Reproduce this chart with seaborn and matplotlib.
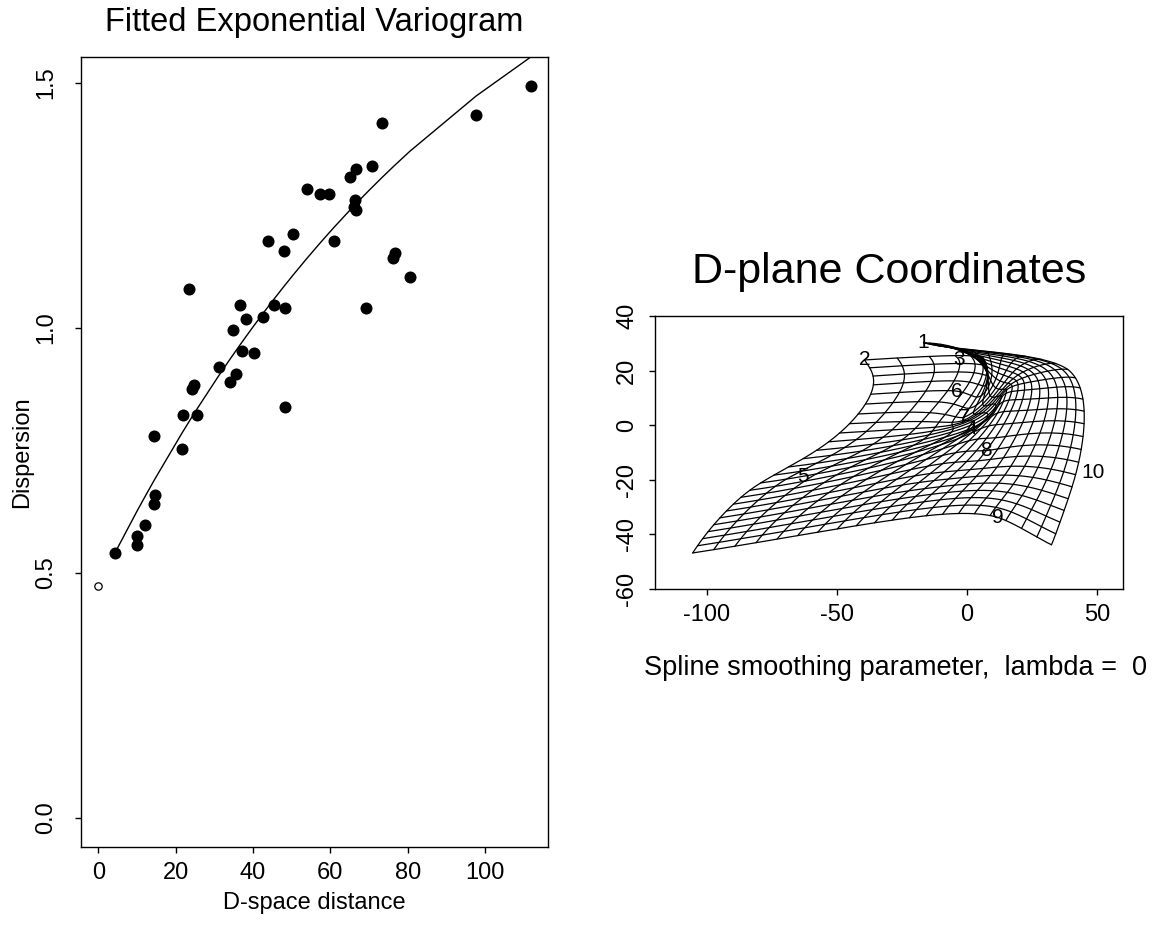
import numpy as np
import pandas as pd
import matplotlib
matplotlib.use("Agg")
import matplotlib.pyplot as plt
import seaborn as sns

# ---------------- Left panel: empirical variogram ----------------
dist = [111.8, 97.7, 73.4, 70.7, 66.6, 65.1, 54.0, 57.2, 59.6, 66.4,
        66.0, 66.6, 50.4, 43.8, 60.9, 47.9, 76.7, 76.3, 80.6, 23.5,
        36.6, 45.5, 48.2, 69.1, 38.1, 42.6, 34.8, 37.2, 40.2, 31.1,
        35.5, 34.0, 24.7, 24.2, 21.8, 25.6, 48.2, 14.4, 21.6, 14.7,
        14.3, 12.1, 10.1, 9.9, 4.3]
dispersion = [1.493, 1.434, 1.418, 1.330, 1.325, 1.307, 1.283, 1.273, 1.273, 1.261,
              1.247, 1.240, 1.191, 1.177, 1.177, 1.157, 1.153, 1.142, 1.103, 1.079,
              1.046, 1.046, 1.040, 1.040, 1.018, 1.022, 0.995, 0.952, 0.948, 0.920,
              0.905, 0.889, 0.884, 0.876, 0.822, 0.822, 0.838, 0.779, 0.752, 0.659,
              0.640, 0.597, 0.575, 0.557, 0.540]
# fitted exponential variogram parameters
nugget = 0.473
partial_sill = 1.604
vrange = 100.0

# ---------------- Right panel: D-plane coordinates ----------------
station = ["1", "2", "3", "4", "5", "6", "7", "8", "9", "10"]
d_x = [-16.7, -39.4, -3.2, 1.5, -62.9, -4.1, -1.3, 7.4, 11.9, 48.5]
d_y = [30.2, 23.9, 24.1, -1.2, -18.7, 12.5, 2.9, -9.3, -33.8, -17.5]
# G-plane positions of the stations, in grid-cell units
g_u = [20.0, 0.0, 3.0, 6.0, 1.6, 3.5, 6.0, 12.0, 16.5, 21.5]
g_v = [24.0, 24.0, 23.5, 12.0, 10.0, 20.0, 18.0, 8.0, 0.0, 6.5]
# grid extent and grid nodes (corners, outer arc, fold)
grid_u = [0.0, 20.0]
grid_v = [0.0, 24.0]
anchor_u = [0.0, 20.0, 20.0, 9.5]
anchor_v = [0.0, 0.0, 15.0, 13.0]
anchor_x = [-105.5, 32.5, 38.8, 14.0]
anchor_y = [-46.8, -43.8, 20.4, 11.0]
lam = 0

sns.set_style("ticks")
plt.rcParams["font.family"] = ["Liberation Sans", "DejaVu Sans"]
for k in ["text.color", "axes.labelcolor", "xtick.color", "ytick.color",
          "axes.edgecolor"]:
    plt.rcParams[k] = "black"
plt.rcParams["axes.linewidth"] = 1.0
plt.rcParams["xtick.major.width"] = 1.0
plt.rcParams["ytick.major.width"] = 1.0
plt.rcParams["xtick.major.size"] = 4
plt.rcParams["ytick.major.size"] = 4

W, H = 1160, 930
fig = plt.figure(figsize=(W / 100, H / 100), dpi=100)


def box(l, t, r, b):
    return [l / W, 1 - b / H, (r - l) / W, (b - t) / H]


# ---- left axes ----
ax1 = fig.add_axes(box(81, 57, 548, 847))
df = pd.DataFrame({"h": dist, "g": dispersion})
sns.scatterplot(data=df, x="h", y="g", ax=ax1, color="black", s=75,
                edgecolor="black", linewidth=0, zorder=3)
ax1.scatter([0.0], [nugget], s=28, facecolor="white", edgecolor="black",
            linewidth=0.9, zorder=3)
hs = np.sort(np.array(dist))
fit = nugget + partial_sill * (1 - np.exp(-hs / vrange))
sns.lineplot(x=hs, y=fit, ax=ax1, color="black", linewidth=1.0, sort=False,
             estimator=None)
xr = max(dist)
ax1.set_xlim(-0.04 * xr, max(dist) + 0.04 * xr)
yr = max(dispersion)
ax1.set_ylim(-0.04 * yr, yr * 1.04)
ax1.set_xticks([0, 20, 40, 60, 80, 100])
ax1.set_yticks([0.0, 0.5, 1.0, 1.5])
ax1.set_yticklabels(["0.0", "0.5", "1.0", "1.5"], rotation=90, va="center")
ax1.tick_params(axis="x", labelsize=17, pad=7)
ax1.tick_params(axis="y", labelsize=17, pad=13)
ax1.set_xlabel("")
ax1.set_ylabel("")
for s in ax1.spines.values():
    s.set_visible(True)
fig.text(314.5 / W, 1 - 22 / H, "Fitted Exponential Variogram", ha="center",
         va="center", fontsize=23.5)
fig.text(314.5 / W, 1 - 903 / H, "D-space distance", ha="center", va="center",
         fontsize=17)
fig.text(22 / W, 1 - 452 / H, "Dispersion", ha="center", va="center",
         fontsize=17, rotation=90)

# ---- right axes: thin-plate spline deformation grid ----
src = np.column_stack([g_u + anchor_u, g_v + anchor_v]).astype(float)
dst = np.column_stack([d_x + anchor_x, d_y + anchor_y]).astype(float)
n = len(src)


def kern(a, b):
    d = np.sqrt(((a[:, None, :] - b[None, :, :]) ** 2).sum(-1))
    with np.errstate(divide="ignore", invalid="ignore"):
        k = np.where(d > 0, d ** 2 * np.log(d), 0.0)
    return k


L = np.zeros((n + 3, n + 3))
L[:n, :n] = kern(src, src) + lam * np.eye(n)
P = np.hstack([np.ones((n, 1)), src])
L[:n, n:] = P
L[n:, :n] = P.T
Y = np.vstack([dst, np.zeros((3, 2))])
coef = np.linalg.solve(L, Y)


def warp(pts):
    return kern(pts, src) @ coef[:n] + coef[n] + pts @ coef[n + 1:]


umin, umax = grid_u
vmin, vmax = grid_v
nu, nv = 21, 25
t = np.linspace(0, 1, 400)
rows = []
lid = 0
for u in np.linspace(umin, umax, nu):
    pts = np.column_stack([np.full_like(t, u), vmin + t * (vmax - vmin)])
    w = warp(pts)
    rows.append(pd.DataFrame({"x": w[:, 0], "y": w[:, 1], "line": lid}))
    lid += 1
for v in np.linspace(vmin, vmax, nv):
    pts = np.column_stack([umin + t * (umax - umin), np.full_like(t, v)])
    w = warp(pts)
    rows.append(pd.DataFrame({"x": w[:, 0], "y": w[:, 1], "line": lid}))
    lid += 1
grid = pd.concat(rows, ignore_index=True)

ax2 = fig.add_axes(box(655, 316, 1123, 589))
sns.lineplot(data=grid, x="x", y="y", units="line", estimator=None, sort=False,
             color="black", linewidth=0.9, ax=ax2)
for lab, x, y in zip(station, d_x, d_y):
    ax2.text(x, y, lab, ha="center", va="center", fontsize=15)
ax2.set_xlim(-120, 60)
ax2.set_ylim(-60, 40)
ax2.set_xticks([-100, -50, 0, 50])
ax2.set_xticklabels(["-100", "-50", "0", "50"])
ax2.set_yticks([-60, -40, -20, 0, 20, 40])
ax2.set_yticklabels(["-60", "-40", "-20", "0", "20", "40"], rotation=90, va="center")
ax2.tick_params(axis="x", labelsize=17, pad=7)
ax2.tick_params(axis="y", labelsize=17, pad=8)
ax2.set_xlabel("")
ax2.set_ylabel("")
for s in ax2.spines.values():
    s.set_visible(True)
fig.text(889 / W, 1 - 272 / H, "D-plane Coordinates", ha="center", va="center",
         fontsize=31)
fig.text(895 / W, 1 - 668 / H, "Spline smoothing parameter,  lambda =  %d" % lam,
         ha="center", va="center", fontsize=19.5)

fig.savefig("out.png", dpi=100)
